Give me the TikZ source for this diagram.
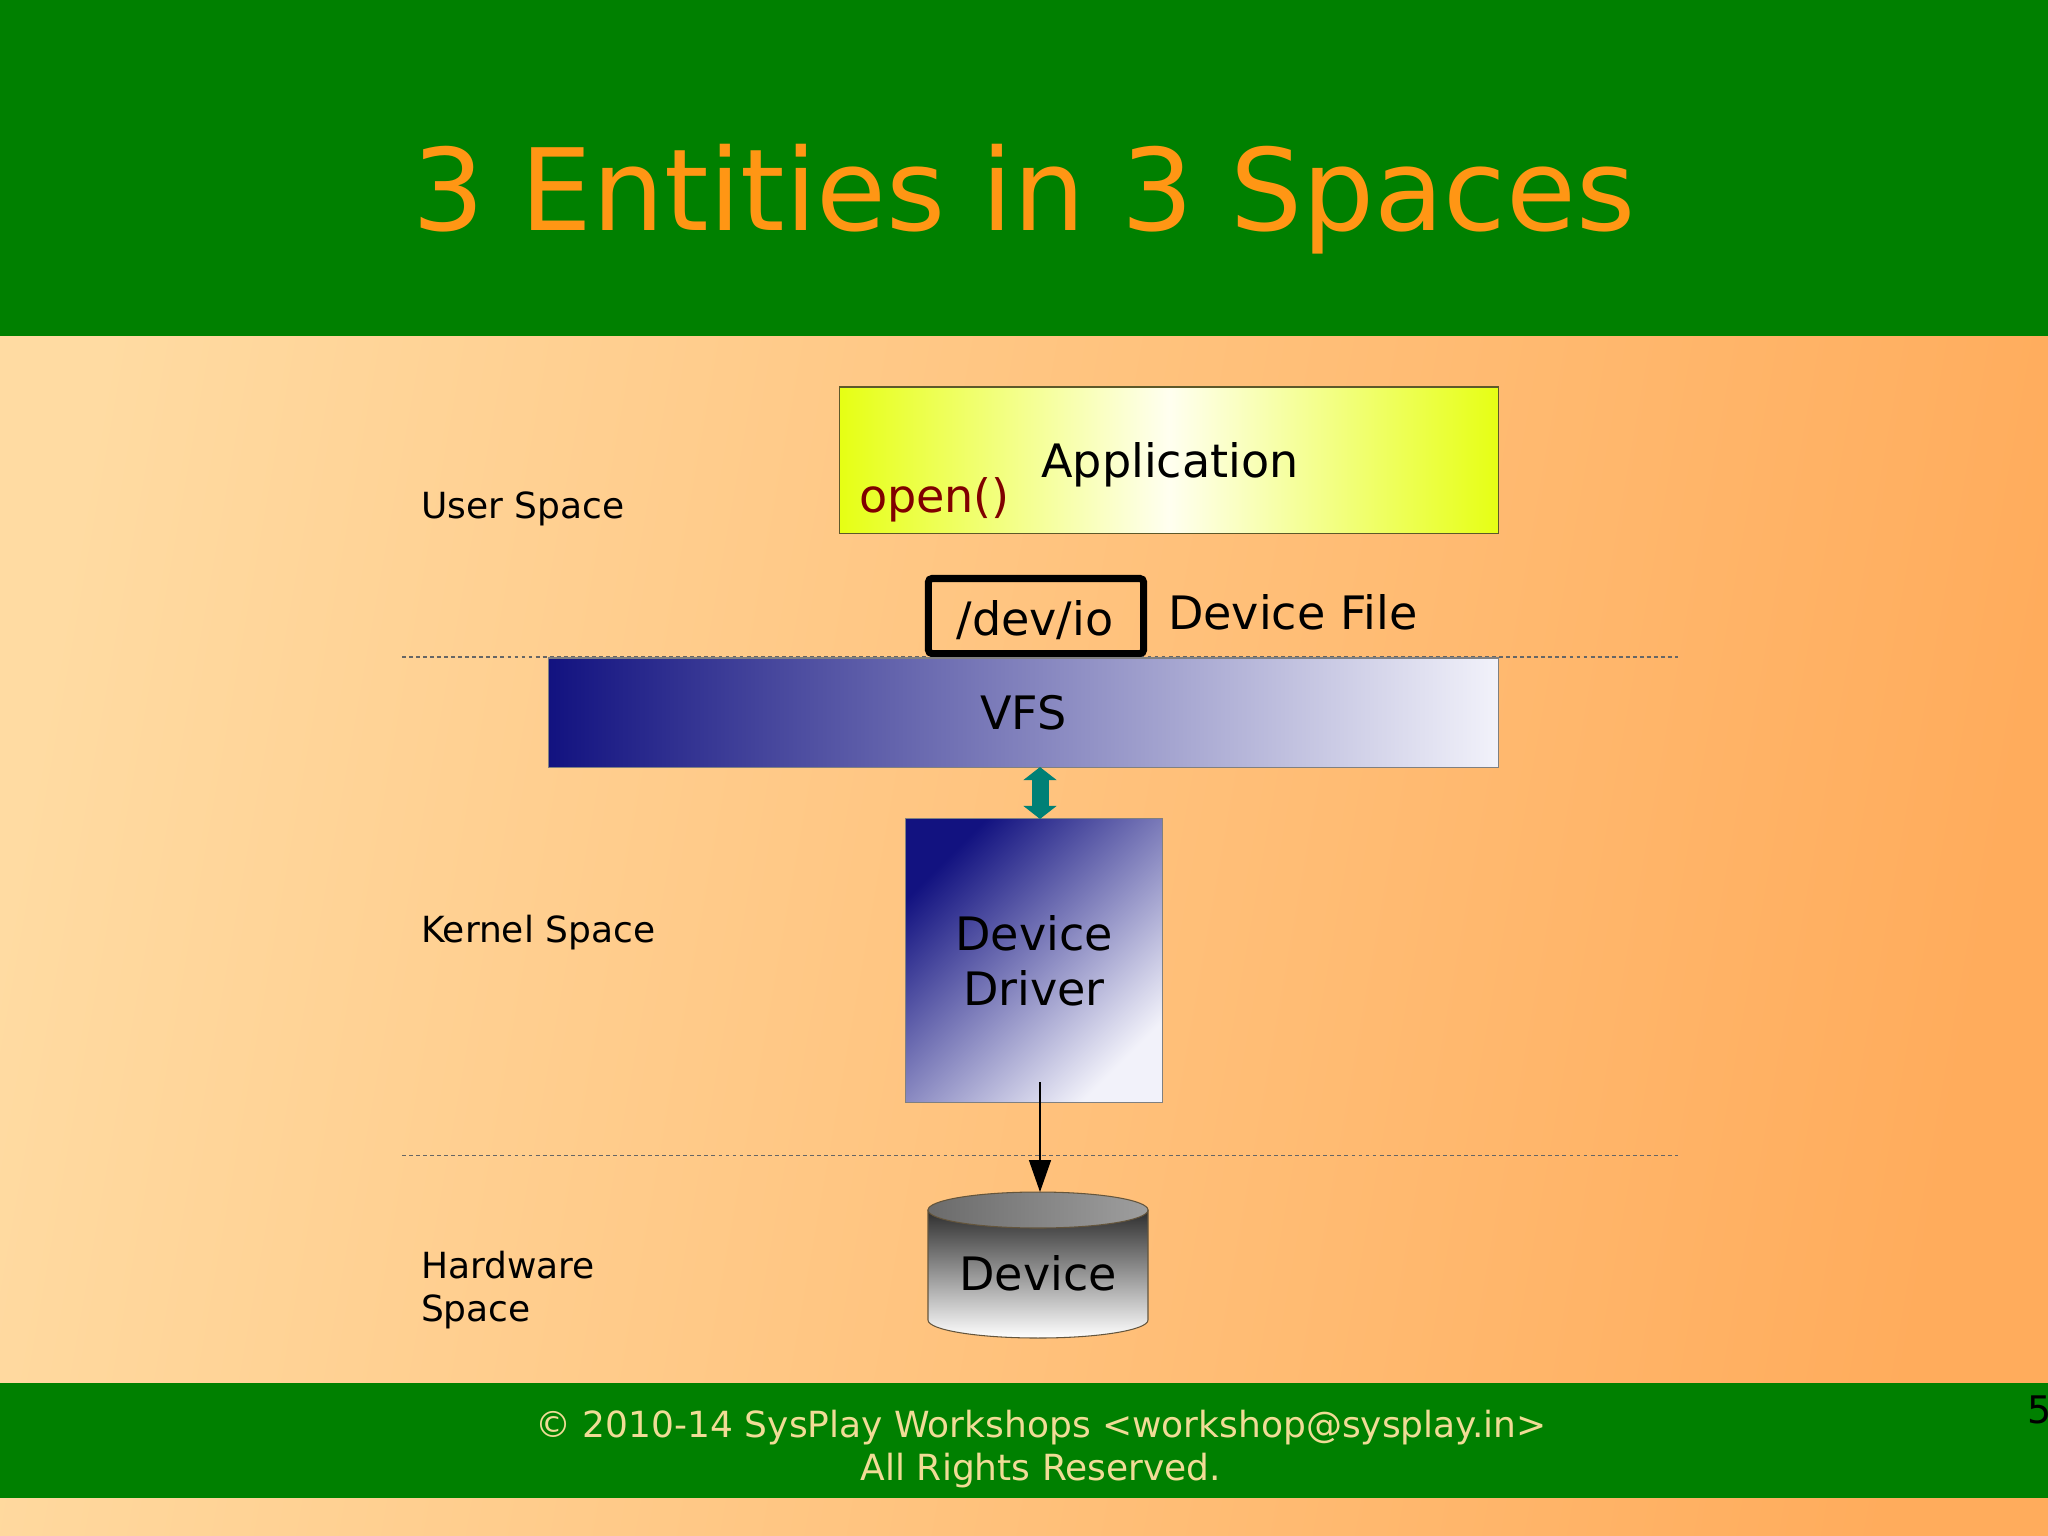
\documentclass[tikz,border=0pt]{standalone}
\usepackage{fontspec}
\setmainfont{DejaVu Sans}
\usetikzlibrary{arrows.meta,positioning}
\definecolor{slidegreen}{RGB}{0,128,0}
\definecolor{titleorange}{RGB}{255,150,20}
\definecolor{bgleft}{RGB}{255,219,162}
\definecolor{bgright}{RGB}{255,172,92}
\definecolor{footcol}{RGB}{240,220,150}
\definecolor{appyellow}{RGB}{230,255,20}
\definecolor{appwhite}{RGB}{255,255,240}
\definecolor{vfsdark}{RGB}{18,18,128}
\definecolor{vfslight}{RGB}{242,242,250}
\definecolor{openred}{RGB}{128,0,0}
\definecolor{tealarrow}{RGB}{0,128,118}
\definecolor{cyledge}{RGB}{100,85,60}
\definecolor{cyldark}{RGB}{45,45,45}
\newcommand{\fsmain}{\fontsize{13.1pt}{15.1pt}\selectfont}
\newcommand{\fssmall}{\fontsize{10.24pt}{12.2pt}\selectfont}
\newcommand{\fstitle}{\fontsize{32.3pt}{39pt}\selectfont}
\begin{document}
\begin{tikzpicture}[x=0.01cm,y=-0.01cm,
  every node/.style={inner sep=0pt,outer sep=0pt},
  spaceline/.style={draw=black!60,line width=0.3pt,dash pattern=on 1.1pt off 0.9pt},
  appbox/.style={draw=black!45!olive,line width=0.3pt,left color=appyellow,right color=appyellow,middle color=appwhite},
  vfsbox/.style={draw=black!50,line width=0.3pt,left color=vfsdark,right color=vfslight},
  drvbox/.style={draw=black!50,line width=0.3pt,top color=vfsdark,bottom color=vfslight,shading angle=45},
  filebox/.style={draw=black,line width=0.07cm,rounded corners=1pt},
  syncarrow/.style={draw=tealarrow,line width=0.17cm,
    {Triangle[width=0.33cm,length=0.13cm,line width=0.3pt]}-{Triangle[width=0.33cm,length=0.13cm,line width=0.3pt]}},
  callarrow/.style={line width=0.4pt,-{Triangle[width=0.22cm,length=0.32cm]}}]
\useasboundingbox (0,0) rectangle (2048,1535);
\shade[left color=bgleft,right color=bgright,shading angle=80] (0,0) rectangle (2048,1535);
\fill[slidegreen] (0,0) rectangle (2048,336);
\fill[slidegreen] (0,1383) rectangle (2048,1498);
\node[font=\fstitle,text=titleorange,anchor=base] (title) at (1024,230) {3 Entities in 3 Spaces};
% space borders
\draw[spaceline] (402,657) -- (1678,657);
\draw[spaceline] (402,1155) -- (1678,1155);
\node[font=\fssmall,anchor=base west] (user) at (421,518) {User Space};
\node[font=\fssmall,anchor=base west] (kernel) at (421,942) {Kernel Space};
\node[font=\fssmall,align=left,anchor=north west] (hw) at (421,1251) {Hardware\\Space};
% user space
\node[appbox,minimum width=6.58cm,minimum height=1.46cm] (app) at (1169,460) {};
\node[font=\fsmain,anchor=base] (apptext) at (1170,477) {Application};
\node[font=\fsmain,text=openred,anchor=base west] (open) at (859,512) {open()};
\node[filebox,minimum width=2.15cm,minimum height=0.75cm] (devio) at (1036,616) {};
\node[font=\fsmain,anchor=base] (deviotext) at (1035,635) {/dev/io};
\node[font=\fsmain,anchor=base west] (devfile) at (1168,629) {Device File};
% kernel space
\node[vfsbox,minimum width=9.49cm,minimum height=1.09cm,font=\fsmain] (vfs) at (1023.5,712.5) {VFS};
\node[drvbox,minimum width=2.56cm,minimum height=2.83cm,font=\fsmain,align=center] (drv) at (1034,960.5) {Device\\[0.5pt]Driver};
\coordinate (axis) at (1040,0);
\draw[syncarrow] (vfs.south -| axis) -- (drv.north -| axis);
% hardware space
\shade[top color=cyldark,bottom color=white,draw=cyledge,line width=0.3pt] (928,1210) -- (928,1320)
  arc[start angle=180,end angle=0,x radius=110,y radius=18] -- (1148,1210) -- cycle;
\shade[left color=black!58,right color=black!38,draw=cyledge,line width=0.3pt] (1038,1210) ellipse[x radius=110,y radius=18];
\node[font=\fsmain,anchor=base] (dev) at (1038,1290) {Device};
\coordinate (drvout) at (1040,1082);
\coordinate (devtop) at (1040,1192);
\draw[callarrow] (drvout) -- (devtop);
% footer
\node[font=\fssmall,text=footcol,align=center,anchor=north] (foot) at (1041,1410)
  {© 2010-14 SysPlay Workshops <workshop@sysplay.in>\\All Rights Reserved.};
\node[font=\fontsize{10.8pt}{13pt}\selectfont,anchor=base west] (pagenum) at (2027,1423) {5};
\end{tikzpicture}
\end{document}
